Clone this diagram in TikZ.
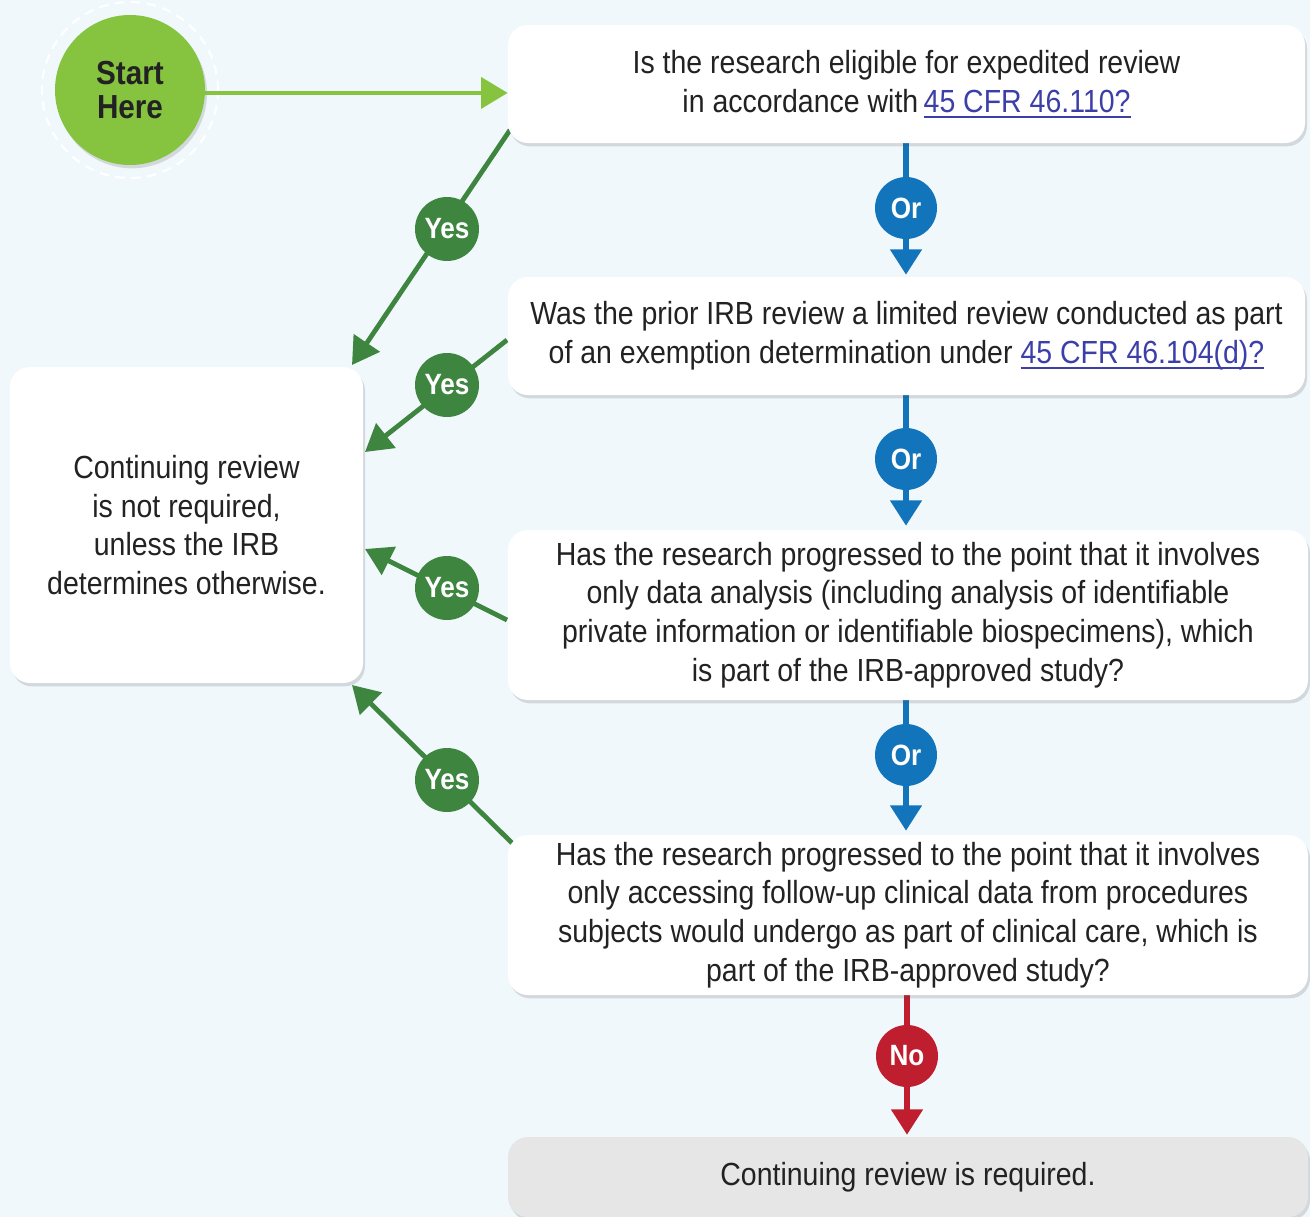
\documentclass[tikz,border=0pt]{standalone}
\usepackage{fontspec}
\setmainfont{Liberation Sans}[FakeStretch=0.89]
\usetikzlibrary{arrows.meta,shadows}
\definecolor{bgc}{HTML}{F1F8FC}
\definecolor{startg}{HTML}{86C440}
\definecolor{darkg}{HTML}{3E8540}
\definecolor{orblue}{HTML}{1275BB}
\definecolor{nored}{HTML}{BE1E2D}
\definecolor{endgray}{HTML}{E6E6E6}
\definecolor{linkc}{HTML}{3C3FA8}
\definecolor{txt}{HTML}{222222}
\newcommand\lnk[1]{\textcolor{linkc}{\setbox0\hbox{#1}\rlap{\rule[-4pt]{\wd0}{1.5pt}}\box0}}
\pgfdeclarelayer{back}
\pgfdeclarelayer{lines}
\pgfsetlayers{back,lines,main}
\begin{document}
\begin{tikzpicture}[x=0.75pt,y={(0pt,-0.75pt)},
  font=\fontsize{24}{29}\selectfont,
  qbox/.style={fill=white, rounded corners=15pt, align=center, text=txt, inner sep=0pt,
    drop shadow={shadow xshift=1.5pt, shadow yshift=-2.5pt, opacity=0.18, fill=black!70}},
  badge/.style={circle, inner sep=0pt, minimum size=#1, text=white, font=\fontsize{22}{22}\selectfont\bfseries},
  yesline/.style={draw=darkg, line width=3.6pt, -{Triangle[width=23pt,length=20pt]}},
  orline/.style={draw=orblue, line width=4.2pt},
  noline/.style={draw=nored, line width=4.2pt},
  tip/.style={-{Triangle[width=23pt,length=19pt]}}
]
\useasboundingbox (0,0) rectangle (1310,1217);
\begin{pgfonlayer}{back}
  \fill[bgc] (0,0) rectangle (1310,1217);
\end{pgfonlayer}

% start
\draw[white, dashed, line width=1.6pt, dash pattern=on 7pt off 5pt] (130,90) circle (66pt);
\node[circle, fill=startg, minimum size=112.5pt, inner sep=0pt, align=center, text=txt,
  font=\fontsize{25}{26}\selectfont\bfseries,
  drop shadow={shadow xshift=1.5pt, shadow yshift=-2.5pt, opacity=0.18, fill=black!70}]
  (start) at (130,90) {Start\\Here};

% question boxes
\node[qbox, minimum width=597.75pt, minimum height=88.5pt] (b1) at (906.5,84)
  {Is the research eligible for expedited review\\in accordance with\,\lnk{45 CFR 46.110?}};
\node[qbox, minimum width=597.75pt, minimum height=88.5pt] (b2) at (906.5,336)
  {Was the prior IRB review a limited review conducted as part\\of an exemption determination under \lnk{45 CFR 46.104(d)?}};
\node[qbox, minimum width=600pt, minimum height=127.5pt] (b3) at (908,615)
  {Has the research progressed to the point that it involves\\only data analysis (including analysis of identifiable\\private information or identifiable biospecimens), which\\is part of the IRB-approved study?};
\node[qbox, minimum width=600pt, minimum height=120pt] (b4) at (908,915)
  {Has the research progressed to the point that it involves\\only accessing follow-up clinical data from procedures\\subjects would undergo as part of clinical care, which is\\part of the IRB-approved study?};
\node[qbox, fill=endgray, minimum width=600pt, minimum height=60pt] (b5) at (908,1177)
  {Continuing review is required.};
\node[qbox, minimum width=264.75pt, minimum height=237pt] (left) at (186.5,525)
  {Continuing review\\is not required,\\unless the IRB\\determines otherwise.};

% start arrow
\draw[draw=startg, line width=3.6pt, -{Triangle[width=23pt,length=20pt]}] ([yshift=-2.2pt]start.east) -- ([yshift=-2.2pt]start.east -| b1.west);

% Or badges
\node[badge=46.5pt, fill=orblue] (or1) at (906,208) {Or};
\node[badge=46.5pt, fill=orblue] (or2) at (906,459) {Or};
\node[badge=46.5pt, fill=orblue] (or3) at (906,755) {Or};
\node[badge=46.5pt, fill=nored] (no) at (907,1056) {No};

\begin{pgfonlayer}{lines}
\draw[orline] (b1.south -| or1) -- (or1);
\draw[orline, tip, shorten >=1.5pt] (or1) -- (b2.north -| or1);
\draw[orline] (b2.south -| or2) -- (or2);
\draw[orline, tip, shorten >=3pt] (or2) -- (b3.north -| or2);
\draw[orline] (b3.south -| or3) -- (or3);
\draw[orline, tip, shorten >=3pt] (or3) -- (b4.north -| or3);
\draw[noline] (b4.south -| no) -- (no);
\draw[noline, tip, shorten >=1.5pt] (no) -- (b5.north -| no);
\end{pgfonlayer}

% Yes arrows
\coordinate (s1) at (510,130);  \coordinate (e1) at (352,365);
\coordinate (s2) at (507,340);  \coordinate (e2) at (365,452);
\coordinate (s3) at (507,620);  \coordinate (e3) at (365,549);
\coordinate (s4) at (512,843);  \coordinate (e4) at (352,685);
\node[badge=48pt, fill=darkg] (y1) at (447,229) {Yes};
\node[badge=48pt, fill=darkg] (y2) at (447,385) {Yes};
\node[badge=48pt, fill=darkg] (y3) at (447,588) {Yes};
\node[badge=48pt, fill=darkg] (y4) at (447,780) {Yes};
\begin{pgfonlayer}{lines}
\draw[yesline] (s1) -- (e1);
\draw[yesline] (s2) -- (e2);
\draw[yesline] (s3) -- (e3);
\draw[yesline] (s4) -- (e4);
\end{pgfonlayer}
\end{tikzpicture}
\end{document}
